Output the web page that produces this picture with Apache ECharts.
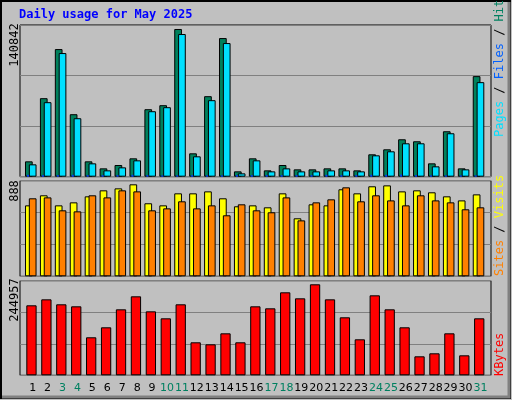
<!DOCTYPE html>
<html><head><meta charset="utf-8">
<script src="https://cdn.jsdelivr.net/npm/echarts@6/dist/echarts.min.js"></script>
<style>html,body{margin:0;padding:0;background:#c0c0c0}#c{width:512px;height:400px}</style>
</head><body><div id="c"></div>
<script>
const days = Array.from({length:31},(_,i)=>String(i+1));
const weekendDays = ['3','4','10','11','17','18','24','25','31'];
const hits = [14656,74870,121700,59580,14656,7965,11150,17520,64360,68180,140842,22300,76780,132200,5100,17520,6050,11150,7010,7010,7965,7965,6050,21350,26120,35680,33780,12740,43330,7965,95900];
const files = [11790,71050,117900,55760,12740,6050,8920,15610,62450,66270,136040,19430,72960,127440,3190,15610,5100,7965,5100,5100,6050,6050,5100,20390,24210,31860,31860,9880,41420,7010,90160];
const pages = [1800,1500,1500,1800,1500,1500,1500,1800,1500,1300,1300,1500,1300,1300,1500,1500,1500,1500,1500,1500,1800,1500,1500,1800,1800,2000,1500,1300,1300,1300,1300];
const visits = [685,782,685,714,772,830,849,888,705,685,801,801,820,753,676,685,666,801,560,695,685,840,801,869,878,820,830,811,772,733,791];
const sites = [753,762,637,627,782,762,830,820,637,656,724,656,685,589,695,637,618,762,540,714,743,859,724,782,733,685,782,733,714,647,666];
const kbytes = [188400,204500,191100,185700,102300,129200,177600,212600,172200,153400,191100,88800,83400,113000,88800,185700,180300,223400,207200,244957,204500,156100,96900,215300,177600,129200,51100,59200,113000,53800,153400];
const maxLabels = ['140842','888','244957'];

const chart = echarts.init(document.getElementById('c'));
const panels = [{top:25,h:151.7,max:144650},{top:180.7,h:95.6,max:923},{top:280.7,h:94.6,max:254650}];
const grids=[], xAxes=[], yAxes=[], series=[];
function addGrid(p,left,show,splits){
  const gi=grids.length;
  grids.push({left:left,width:462.7,top:p.top,height:p.h,show:false});
  xAxes.push({type:'category',data:days,gridIndex:gi,show:false});
  yAxes.push({type:'value',gridIndex:gi,min:0,max:p.max,interval:p.max/3,show:splits,
    axisLabel:{show:false},axisLine:{show:false},axisTick:{show:false},
    splitLine:{show:splits,lineStyle:{color:'#808080',width:1}}});
  return gi;
}
// frame grids
panels.forEach(p=>{
  grids.push({left:20,right:21,top:p.top,height:p.h,show:true,backgroundColor:'#c0c0c0',borderColor:'#000',borderWidth:1});
  const gi=grids.length-1;
  xAxes.push({type:'category',data:days,gridIndex:gi,show:false});
  yAxes.push({type:'value',gridIndex:gi,min:0,max:3,interval:1,axisLabel:{show:false},axisLine:{show:false},axisTick:{show:false},splitLine:{show:true,lineStyle:{color:'#808080'}}});
});
const bs = {borderColor:'#000',borderWidth:1};
let g = addGrid(panels[0],23.3,false);
series.push({type:'bar',xAxisIndex:g,yAxisIndex:g,data:hits,barWidth:7.7,barGap:'-50%',itemStyle:{color:'#00805c',...bs},animation:false});
series.push({type:'bar',xAxisIndex:g,yAxisIndex:g,data:files,barWidth:7.7,barGap:'-50%',itemStyle:{color:'#00e0ff',...bs},animation:false});
g = addGrid(panels[0],20.5,false);
series.push({type:'bar',xAxisIndex:g,yAxisIndex:g,data:pages,barWidth:2,itemStyle:{color:'#0040ff'},animation:false});
g = addGrid(panels[1],23.3,false);
series.push({type:'bar',xAxisIndex:g,yAxisIndex:g,data:visits,barWidth:7.7,barGap:'-50%',itemStyle:{color:'#ffff00',...bs},animation:false});
series.push({type:'bar',xAxisIndex:g,yAxisIndex:g,data:sites,barWidth:7.7,barGap:'-50%',itemStyle:{color:'#ff8000',...bs},animation:false});
g = addGrid(panels[2],24,false);
series.push({type:'bar',xAxisIndex:g,yAxisIndex:g,data:kbytes,barWidth:10.3,itemStyle:{color:'#ff0000',...bs},animation:false});
// day labels axis
grids.push({left:25.2,width:462.7,top:280.7,height:94.6,show:false});
xAxes.push({type:'category',data:days,gridIndex:grids.length-1,axisLine:{show:false},axisTick:{show:false},
  axisLabel:{margin:7,fontFamily:'DejaVu Sans',fontSize:11,interval:0,color:(v)=>weekendDays.includes(v)?'#008060':'#000'}});
yAxes.push({type:'value',gridIndex:grids.length-1,show:false});

const mono='DejaVu Sans Mono';
const rot = Math.PI/2;
chart.setOption({
  animation:false,
  backgroundColor:'#c0c0c0',
  grid:grids,xAxis:xAxes,yAxis:yAxes,series:series,
  graphic:[
    {type:'rect',shape:{x:1,y:1,width:509,height:397},style:{fill:'none',stroke:'#000',lineWidth:2},z:-1},
    {type:'polyline',shape:{points:[[2,397],[509,397],[509,2]]},style:{stroke:'#808080',lineWidth:3,fill:'none'}},
    {type:'text',x:19,y:9,style:{text:'Daily usage for May 2025',fill:'#0000ff',font:'bold 12px "DejaVu Sans Mono"'}},
    {type:'text',x:15,y:45,rotation:rot,style:{text:maxLabels[0],fill:'#000',font:'12px "DejaVu Sans Mono"',align:'center',verticalAlign:'middle'}},
    {type:'text',x:15,y:191,rotation:rot,style:{text:maxLabels[1],fill:'#000',font:'12px "DejaVu Sans Mono"',align:'center',verticalAlign:'middle'}},
    {type:'text',x:15,y:300,rotation:rot,style:{text:maxLabels[2],fill:'#000',font:'12px "DejaVu Sans Mono"',align:'center',verticalAlign:'middle'}},
    {type:'text',x:500,y:137,rotation:rot,style:{text:'{p|Pages}{s| / }{f|Files}{s| / }{h|Hits}',align:'left',verticalAlign:'middle',font:'12px "DejaVu Sans Mono"',
      rich:{p:{fill:'#00e0ff',font:'12px "DejaVu Sans Mono"'},f:{fill:'#0060ff',font:'12px "DejaVu Sans Mono"'},h:{fill:'#008060',font:'12px "DejaVu Sans Mono"'},s:{fill:'#000',font:'12px "DejaVu Sans Mono"'}}}},
    {type:'text',x:500,y:276,rotation:rot,style:{text:'{a|Sites}{s| / }{b|Visits}',align:'left',verticalAlign:'middle',font:'12px "DejaVu Sans Mono"',
      rich:{a:{fill:'#ff8000',font:'12px "DejaVu Sans Mono"'},b:{fill:'#ffff00',font:'12px "DejaVu Sans Mono"'},s:{fill:'#000',font:'12px "DejaVu Sans Mono"'}}}},
    {type:'text',x:500,y:376,rotation:rot,style:{text:'KBytes',fill:'#ff0000',align:'left',verticalAlign:'middle',font:'12px "DejaVu Sans Mono"'}}
  ]
});
</script></body></html>
